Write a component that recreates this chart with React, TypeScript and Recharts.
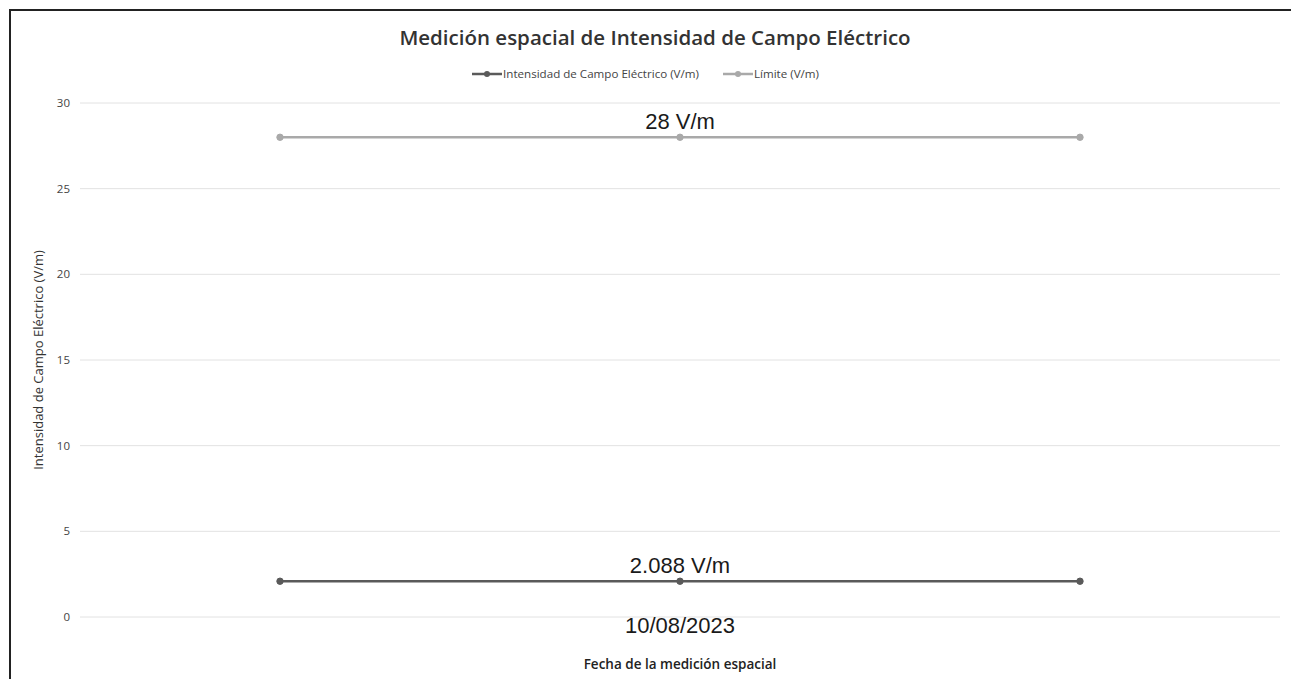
import { CartesianGrid, Label, LabelList, Legend, Line, LineChart, XAxis, YAxis } from "recharts";

const fechas = ["", "10/08/2023", ""];
const intensidad = [2.088, 2.088, 2.088];
const limite = [28, 28, 28];
const yTicks = [0, 5, 10, 15, 20, 25, 30];

const series = [
  { key: "intensidad", name: "Intensidad de Campo Eléctrico (V/m)", color: "#5a5a5a", label: "2.088 V/m" },
  { key: "limite", name: "Límite (V/m)", color: "#a9a9a9", label: "28 V/m" }
];

const data = fechas.map((fecha, i) => ({ fecha, intensidad: intensidad[i], limite: limite[i] }));

const sans = "'Open Sans', 'Noto Sans', sans-serif";
const labelFont = "'Liberation Sans', Arial, sans-serif";

function LegendContent() {
  return (
    <div style={{ display: "flex", justifyContent: "center", gap: 24, fontFamily: sans, fontSize: 11.6, color: "#444" }}>
      {series.map((s) => (
        <div key={s.key} style={{ display: "flex", alignItems: "center" }}>
          <svg width={30} height={10} style={{ marginRight: 1 }}>
            <line x1={0} x2={30} y1={5} y2={5} stroke={s.color} strokeWidth={2.5} />
            <circle cx={15} cy={5} r={3} fill={s.color} />
          </svg>
          <span>{s.name}</span>
        </div>
      ))}
    </div>
  );
}

function midLabel(text: string) {
  return (props: any) => {
    if (props.index !== 1) return null;
    return (
      <text x={props.x} y={Number(props.y) - 8} textAnchor="middle" fontFamily={labelFont} fontSize={22} fill="#1a1a1a">
        {text}
      </text>
    );
  };
}

export default function App() {
  return (
    <div style={{ position: "absolute", left: 0, top: 0, width: 1291, height: 679, overflow: "hidden", background: "#fff" }}>
      {/* scanned page frame: top and left edges only */}
      <div style={{ position: "absolute", left: 9, top: 9, width: 1282, height: 2, background: "#222" }} />
      <div style={{ position: "absolute", left: 9, top: 9, width: 2, height: 670, background: "#222" }} />
      <div style={{ position: "absolute", left: 0, top: 23, width: 1310, textAlign: "center", fontFamily: sans, fontSize: 20.5, fontWeight: 600, color: "#333" }}>
        Medición espacial de Intensidad de Campo Eléctrico
      </div>
      <LineChart width={1291} height={679} data={data} margin={{ top: 88, right: 11, bottom: 10, left: 30 }} style={{ position: "absolute", left: 0, top: 0 }}>
        <CartesianGrid stroke="#e2e2e2" vertical={false} />
        <Legend verticalAlign="top" content={<LegendContent />} wrapperStyle={{ top: 66, left: 0, width: 1291 }} />
        <XAxis dataKey="fecha" allowDuplicatedCategory padding={{ left: 200, right: 200 }} tickLine={false} axisLine={false} tickSize={0} tickMargin={0} height={52}
          tick={{ fontFamily: labelFont, fontSize: 22, fill: "#1a1a1a" }}>
          <Label value="Fecha de la medición espacial" position="insideBottom" offset={0} style={{ fontFamily: sans, fontSize: 13.5, fontWeight: 600, fill: "#222" }} />
        </XAxis>
        <YAxis domain={[0, 30]} ticks={yTicks} width={50} tickLine={false} axisLine={false} tickSize={0} tickMargin={10}
          tick={{ fontFamily: sans, fontSize: 11.5, fill: "#444" }}>
          <Label
            content={({ viewBox }: any) => {
              const cx = viewBox.x + 8;
              const cy = viewBox.y + viewBox.height / 2;
              return (
                <text x={cx} y={cy} transform={`rotate(-90 ${cx} ${cy})`} textAnchor="middle" dominantBaseline="central" fontFamily={sans} fontSize={13} fill="#333">
                  Intensidad de Campo Eléctrico (V/m)
                </text>
              );
            }}
          />
        </YAxis>
        {series.map((s) => (
          <Line key={s.key} dataKey={s.key} name={s.name} stroke={s.color} strokeWidth={2.5} isAnimationActive={false}
            dot={{ r: 3.2, fill: s.color, stroke: s.color, strokeWidth: 1 }} activeDot={false}>
            <LabelList dataKey={s.key} content={midLabel(s.label)} />
          </Line>
        ))}
      </LineChart>
    </div>
  );
}
